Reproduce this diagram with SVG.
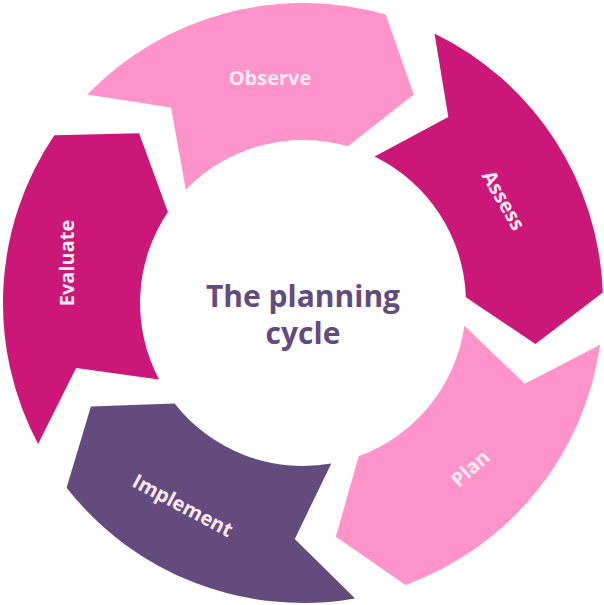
<svg xmlns="http://www.w3.org/2000/svg" width="604" height="605" viewBox="0 0 604 605">
<style>
.lbl{font-family:"Open Sans","Lato",sans-serif;font-weight:700;font-size:20px;fill:#fde9f3;text-anchor:middle;dominant-baseline:central}
.ttl{font-family:"Open Sans","Lato",sans-serif;font-weight:700;font-size:30px;fill:#634c7d;text-anchor:middle}
.lp{fill:#ff94cb}.dp{fill:#cb1777}.pu{fill:#634c7d}
</style>
<rect width="604" height="605" fill="#fff"/>
<g id="observe">
<path class="lp" d="M87.2,94.6 A300,300 0 0 1 385.7,14.6 L413.8,94.6 L347.9,146.3 A163,163 0 0 0 185.8,189.8 L171,107.4 Z"/>
<text class="lbl" x="270" y="77">Observe</text>
</g>
<g id="assess">
<path class="dp" d="M434.5,33.4 A300,300 0 0 1 602.8,292.5 L535.4,344 L465.9,297.3 A163,163 0 0 0 374.5,156.5 L448.3,117 Z"/>
<text class="lbl" x="504" y="200" transform="rotate(60 504 200)">Assess</text>
</g>
<g id="plan">
<path class="lp" d="M600.1,344.8 A300,300 0 0 1 405.6,584.9 L335.9,536.7 L358.7,456.2 A163,163 0 0 0 464.4,325.7 L524.8,383.7 Z"/>
<text class="lbl" x="470" y="468" transform="rotate(-42 470 468)">Plan</text>
</g>
<g id="implement">
<path class="pu" d="M355.1,598.4 A300,300 0 0 1 66.6,487.7 L90.9,406.5 L174.6,403.4 A163,163 0 0 0 331.3,463.5 L294.8,538.9 Z"/>
<text class="lbl" x="183" y="505" transform="rotate(28 183 505)">Implement</text>
</g>
<g id="evaluate">
<path class="dp" d="M38.1,443.9 A300,300 0 0 1 54.3,135.2 L139.1,133.2 L167.9,211.9 A163,163 0 0 0 159.1,379.5 L76.1,368 Z"/>
<text class="lbl" x="66" y="263" transform="rotate(-90 66 263)">Evaluate</text>
</g>
<g id="center">
<text class="ttl" x="303" y="307">The planning</text>
<text class="ttl" x="303" y="344">cycle</text>
</g>
<g id="connectors"/>
</svg>
